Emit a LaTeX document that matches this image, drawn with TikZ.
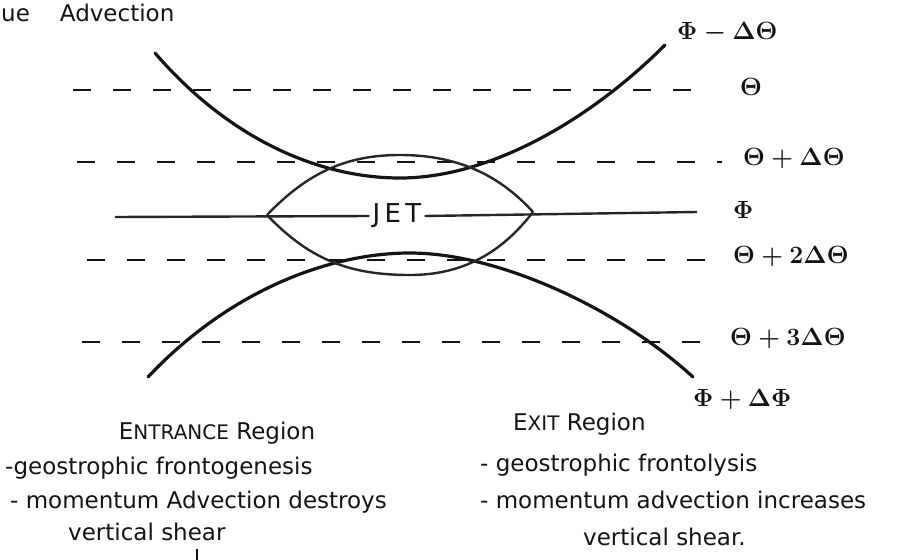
\documentclass[tikz,border=0pt]{standalone}
\usepackage{fontspec}
\setmainfont{DejaVu Sans}
\usetikzlibrary{arrows.meta}
\definecolor{ink}{HTML}{141414}
\definecolor{inkgray}{HTML}{262626}
\newcommand{\smcap}[1]{{\fontsize{20}{22}\selectfont #1}}

\begin{document}
\begin{tikzpicture}[x=1pt, y=-1pt,
    every node/.style={font=\fontsize{23}{27}\selectfont, text=ink},
    contour/.style={ink, line width=3.2pt, line cap=round},
    jetline/.style={inkgray, line width=2.4pt},
    isoline/.style={ink, line width=2.6pt, dash pattern=on 18pt off 22pt},
    lbl/.style={anchor=west, inner sep=0pt, font=\fontsize{26}{30}\selectfont\boldmath},
    txt/.style={anchor=west, inner sep=0pt}]
    \fill[white] (0,0) rectangle (922,560);
    \useasboundingbox (0,0) rectangle (922,560);
    % title
    \node[txt] (title) at (1,13) {ue\hspace{30pt}Advection};
    % isentropes
    \foreach \n/\ys/\xs/\xe/\xl/\lab in {th0/90/73/700/740/{$\Theta$},
      th1/162/77/722/743/{$\Theta+\Delta\Theta$},
      th2/260/87/717/733/{$\Theta+2\Delta\Theta$},
      th3/342/82/713/730/{$\Theta+3\Delta\Theta$}}{
      \coordinate (\n-w) at (\xs,\ys);
      \coordinate (\n-e) at (\xe,\ys);
      \draw[isoline] (\n-w) -- (\n-e);
      \node[lbl] (\n) at (\xl,\ys-3) {\lab};
    }
    % height contours
    \node[lbl] (phiup) at (677,33) {$\Phi-\Delta\Theta$};
    \node[lbl] (phi) at (733,210) {$\Phi$};
    \node[lbl] (phidn) at (693,400) {$\Phi+\Delta\Phi$};
    \draw[contour] (155,53) .. controls (230,140) and (320,178) .. (400,178)
      .. controls (490,178) and (590,120) .. (665,45);
    \draw[contour] (148,377) .. controls (230,290) and (330,253) .. (410,253)
      .. controls (500,253) and (620,310) .. (693,377);
    % jet
    \node[inner sep=3pt, font=\fontsize{26}{30}\selectfont] (jet) at (397,216) {J\,E\,T};
    \coordinate (jet-w) at (115,217);
    \coordinate (jet-e) at (697,212);
    \draw[jetline] (jet-w) -- (jet.west);
    \draw[jetline] (jet.east) -- (jet-e);
    \draw[jetline] (267,215) .. controls (310,170) and (350,155) .. (400,155)
      .. controls (450,155) and (495,170) .. (533,212);
    \draw[jetline] (267,215) .. controls (310,260) and (350,275) .. (410,275)
      .. controls (460,275) and (500,255) .. (533,212);
    % regions
    \node (entr) at (217,433) {E\smcap{NTRANCE} Region};
    \node[txt] (entr1) at (5,468) {-geostrophic frontogenesis};
    \node[txt] (entr2) at (10,502) {- momentum Advection destroys};
    \node[txt] (entr3) at (68,532) {vertical shear};
    \draw[ink, line width=1.4pt] (197,549) -- (197,560);
    \node[txt] (exit) at (513,424) {E\smcap{XIT} Region};
    \node[txt] (exit1) at (480,465) {- geostrophic frontolysis};
    \node[txt] (exit2) at (480,500) {- momentum advection increases};
    \node[txt] (exit3) at (583,537) {vertical shear.};
  \end{tikzpicture}
\end{document}
